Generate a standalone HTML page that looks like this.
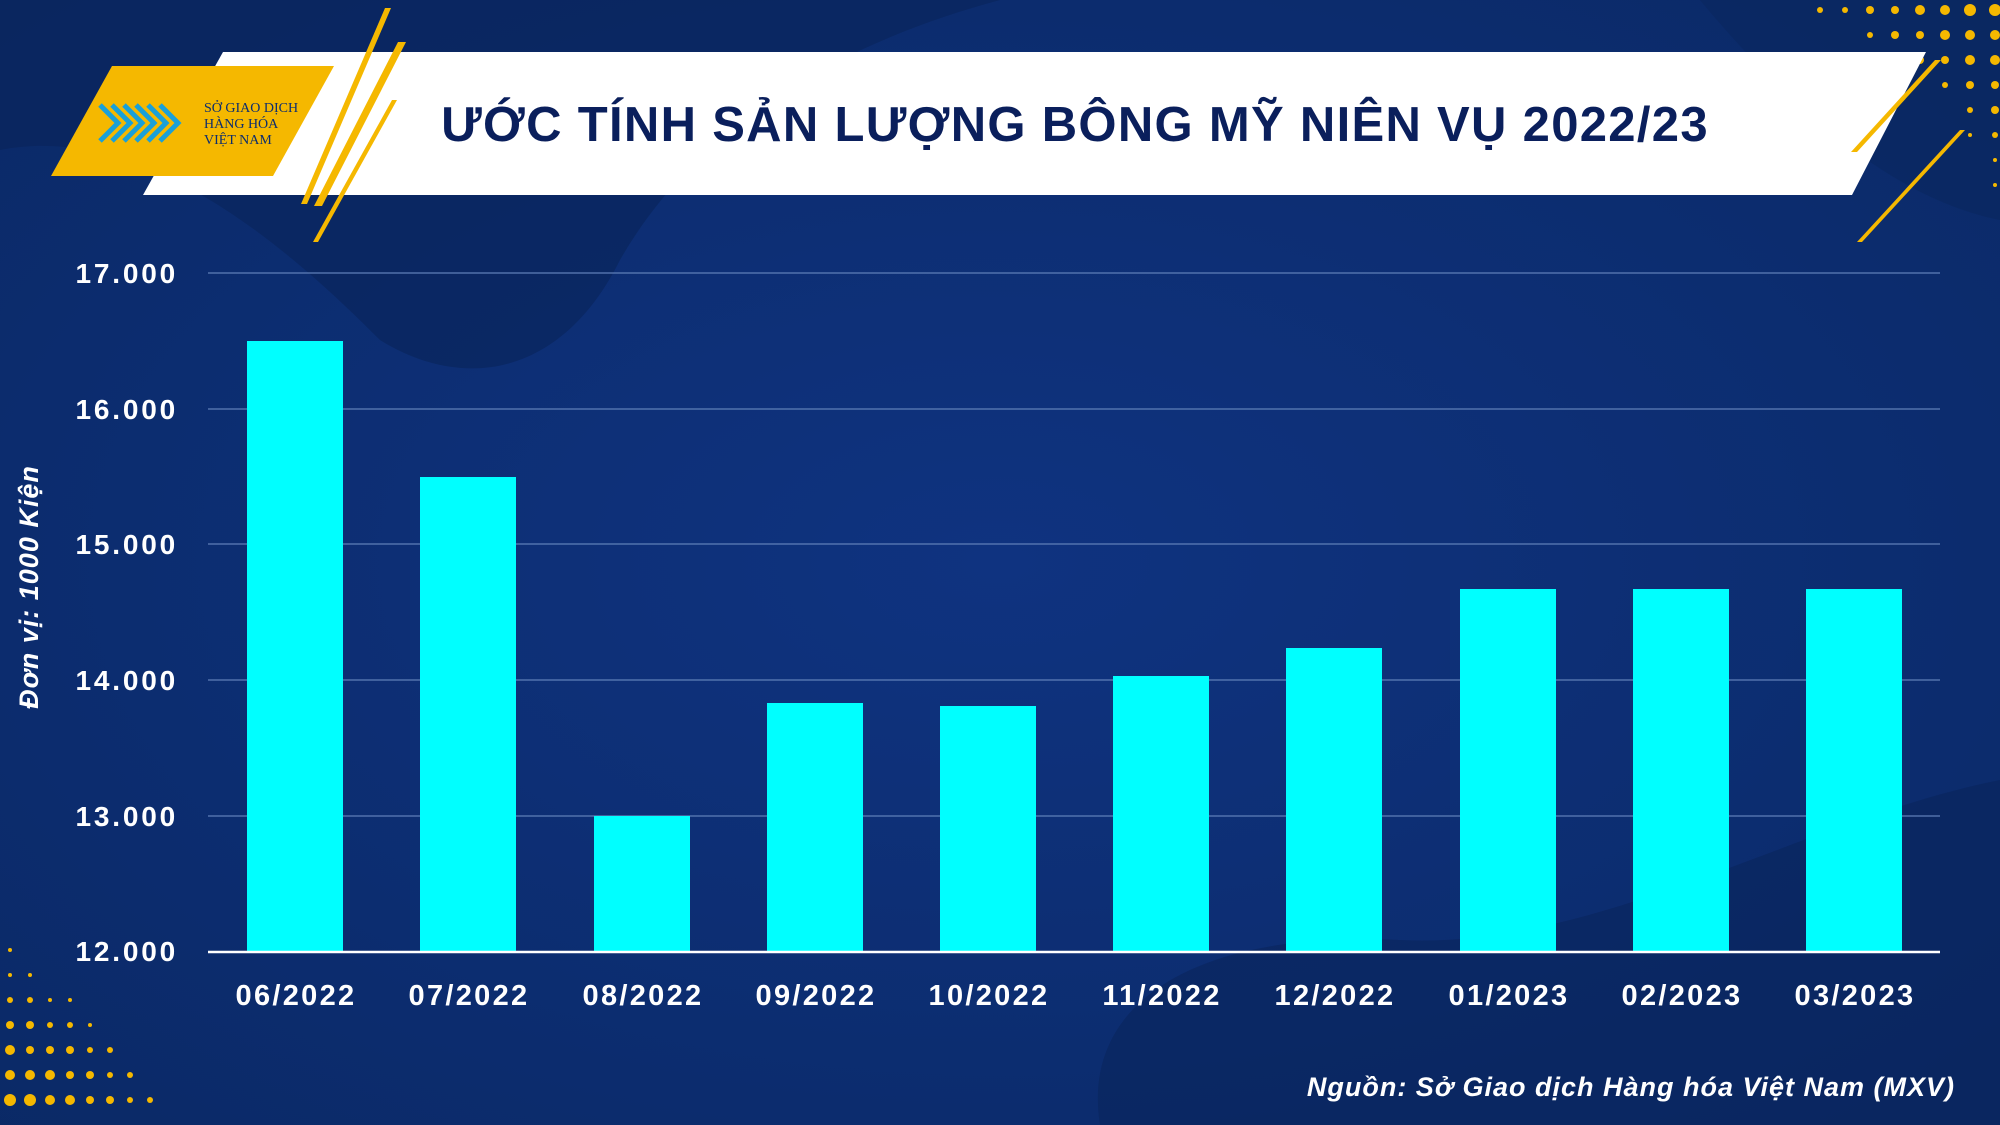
<!DOCTYPE html>
<html><head><meta charset="utf-8"><style>
body{margin:0;width:2000px;height:1125px;overflow:hidden;background:#0c2d6e;font-family:"Liberation Sans",sans-serif}
svg{display:block}
</style></head><body>
<svg width="2000" height="1125" viewBox="0 0 2000 1125" xmlns="http://www.w3.org/2000/svg">
<defs>
<radialGradient id="bg" cx="0.5" cy="0.5" r="0.8"><stop offset="0" stop-color="#0f3380"/><stop offset="1" stop-color="#0a2863"/></radialGradient>
</defs>
<rect width="2000" height="1125" fill="url(#bg)"/>
<path d="M0 150 C150 120 300 260 380 340 C460 390 560 380 620 260 C700 120 850 40 1000 0 L0 0 Z" fill="#0a255c" opacity="0.7"/>
<path d="M1100 1125 C1080 1000 1200 930 1400 940 C1600 950 1800 820 2000 780 L2000 1125 Z" fill="#0a255c" opacity="0.6"/>
<path d="M1700 0 C1800 120 1900 200 2000 220 L2000 0 Z" fill="#0a255c" opacity="0.5"/>
<g fill="#f5b800">
<circle cx="10" cy="1100" r="6"/><circle cx="30" cy="1100" r="6"/><circle cx="50" cy="1100" r="5"/><circle cx="70" cy="1100" r="5"/><circle cx="90" cy="1100" r="4"/><circle cx="110" cy="1100" r="4"/><circle cx="130" cy="1100" r="3"/><circle cx="150" cy="1100" r="3"/>
<circle cx="10" cy="1075" r="5"/><circle cx="30" cy="1075" r="5"/><circle cx="50" cy="1075" r="5"/><circle cx="70" cy="1075" r="4"/><circle cx="90" cy="1075" r="4"/><circle cx="110" cy="1075" r="3"/><circle cx="130" cy="1075" r="3"/>
<circle cx="10" cy="1050" r="5"/><circle cx="30" cy="1050" r="4"/><circle cx="50" cy="1050" r="4"/><circle cx="70" cy="1050" r="4"/><circle cx="90" cy="1050" r="3"/><circle cx="110" cy="1050" r="3"/>
<circle cx="10" cy="1025" r="4"/><circle cx="30" cy="1025" r="4"/><circle cx="50" cy="1025" r="3"/><circle cx="70" cy="1025" r="3"/><circle cx="90" cy="1025" r="2"/>
<circle cx="10" cy="1000" r="3"/><circle cx="30" cy="1000" r="3"/><circle cx="50" cy="1000" r="2"/><circle cx="70" cy="1000" r="2"/>
<circle cx="10" cy="975" r="2"/><circle cx="30" cy="975" r="2"/><circle cx="10" cy="950" r="2"/>
<circle cx="1995" cy="10" r="6"/><circle cx="1970" cy="10" r="6"/><circle cx="1945" cy="10" r="5"/><circle cx="1920" cy="10" r="5"/><circle cx="1895" cy="10" r="4"/><circle cx="1870" cy="10" r="4"/><circle cx="1845" cy="10" r="3"/><circle cx="1820" cy="10" r="3"/>
<circle cx="1995" cy="35" r="5"/><circle cx="1970" cy="35" r="5"/><circle cx="1945" cy="35" r="5"/><circle cx="1920" cy="35" r="4"/><circle cx="1895" cy="35" r="4"/><circle cx="1870" cy="35" r="3"/>
<circle cx="1995" cy="60" r="5"/><circle cx="1970" cy="60" r="5"/><circle cx="1945" cy="60" r="4"/><circle cx="1920" cy="60" r="4"/>
<circle cx="1995" cy="85" r="4"/><circle cx="1970" cy="85" r="4"/><circle cx="1945" cy="85" r="3"/>
<circle cx="1995" cy="110" r="4"/><circle cx="1970" cy="110" r="3"/><circle cx="1995" cy="135" r="3"/><circle cx="1970" cy="135" r="2"/><circle cx="1995" cy="160" r="2"/><circle cx="1995" cy="185" r="2"/>
</g>
<polygon points="223,52 1926,52 1852,195 143,195" fill="#ffffff"/>
<polygon points="112,66 334,66 273,176 51,176" fill="#f5b800"/>
<polygon points="385,8 391,8 307,204 301,204" fill="#f5b800"/>
<polygon points="398,42 406,42 322,206 314,206" fill="#f5b800"/>
<polygon points="392,100 397,100 318,242 313,242" fill="#f5b800"/>
<polygon points="1935,60 1941,60 1857,152 1851,152" fill="#f5b800"/>
<polygon points="1960,130 1965,130 1862,242 1857,242" fill="#f5b800"/>
<g fill="none" stroke="#1aa0d8" stroke-width="5">
<path d="M100 105 L118 123 L100 141 M112 105 L130 123 L112 141 M124 105 L142 123 L124 141 M136 105 L154 123 L136 141 M148 105 L166 123 L148 141 M160 105 L178 123 L160 141"/>
</g>
<text x="204" y="112" font-family="Liberation Serif,serif" font-size="14" fill="#0c2d6e">SỞ GIAO DỊCH</text>
<text x="204" y="128" font-family="Liberation Serif,serif" font-size="14" fill="#0c2d6e">HÀNG HÓA</text>
<text x="204" y="144" font-family="Liberation Serif,serif" font-size="14" fill="#0c2d6e">VIỆT NAM</text>
<text x="1075" y="141" text-anchor="middle" font-size="49" letter-spacing="1.3" font-weight="bold" fill="#0a1f5c">ƯỚC TÍNH SẢN LƯỢNG BÔNG MỸ NIÊN VỤ 2022/23</text>
<g stroke="#5f7fb8" stroke-width="1.2">
<line x1="208" x2="1940" y1="273" y2="273"/><line x1="208" x2="1940" y1="409" y2="409"/><line x1="208" x2="1940" y1="544" y2="544"/><line x1="208" x2="1940" y1="680" y2="680"/><line x1="208" x2="1940" y1="816" y2="816"/>
</g>
<g fill="#ffffff" font-size="28" letter-spacing="2.8" font-weight="bold" text-anchor="end">
<text x="178" y="283">17.000</text><text x="178" y="419">16.000</text><text x="178" y="554">15.000</text><text x="178" y="690">14.000</text><text x="178" y="826">13.000</text><text x="178" y="961">12.000</text>
</g>
<g fill="#00ffff">
<rect x="247" y="341" width="96" height="611"/>
<rect x="420" y="477" width="96" height="475"/>
<rect x="594" y="816" width="96" height="136"/>
<rect x="767" y="703" width="96" height="249"/>
<rect x="940" y="706" width="96" height="246"/>
<rect x="1113" y="676" width="96" height="276"/>
<rect x="1286" y="648" width="96" height="304"/>
<rect x="1460" y="589" width="96" height="363"/>
<rect x="1633" y="589" width="96" height="363"/>
<rect x="1806" y="589" width="96" height="363"/>
</g>
<line x1="208" x2="1940" y1="952" y2="952" stroke="#ffffff" stroke-width="2.5"/>
<g fill="#ffffff" font-size="29" letter-spacing="2.3" font-weight="bold" text-anchor="middle">
<text x="296" y="1005">06/2022</text><text x="469" y="1005">07/2022</text><text x="643" y="1005">08/2022</text><text x="816" y="1005">09/2022</text><text x="989" y="1005">10/2022</text><text x="1162" y="1005">11/2022</text><text x="1335" y="1005">12/2022</text><text x="1509" y="1005">01/2023</text><text x="1682" y="1005">02/2023</text><text x="1855" y="1005">03/2023</text>
</g>
<text transform="translate(38,587) rotate(-90)" text-anchor="middle" fill="#ffffff" font-size="27" letter-spacing="1" font-weight="bold" font-style="italic">Đơn vị: 1000 Kiện</text>
<text x="1955" y="1096" text-anchor="end" fill="#ffffff" font-size="27" letter-spacing="1" font-weight="bold" font-style="italic">Nguồn: Sở Giao dịch Hàng hóa Việt Nam (MXV)</text>
</svg>
</body></html>
